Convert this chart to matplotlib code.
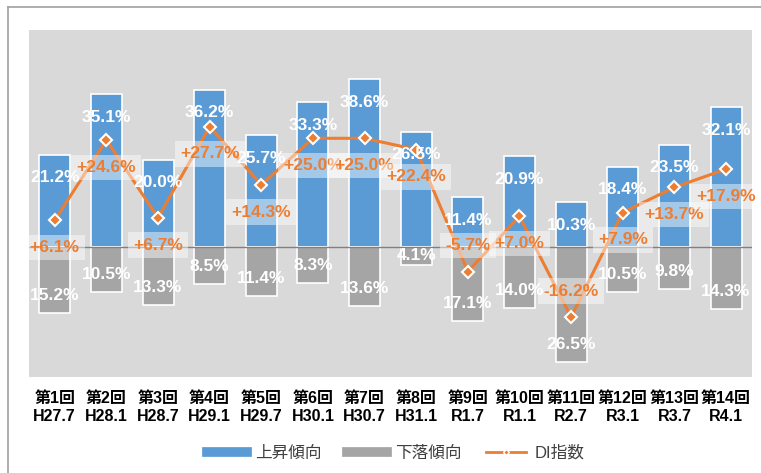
import matplotlib.pyplot as plt
from matplotlib.lines import Line2D
import numpy as np

plt.rcParams['font.family'] = ['Liberation Sans', 'Noto Sans CJK JP', 'DejaVu Sans']

# data
rounds = ['第1回', '第2回', '第3回', '第4回', '第5回', '第6回', '第7回',
          '第8回', '第9回', '第10回', '第11回', '第12回', '第13回', '第14回']
periods = ['H27.7', 'H28.1', 'H28.7', 'H29.1', 'H29.7', 'H30.1', 'H30.7',
           'H31.1', 'R1.7', 'R1.1', 'R2.7', 'R3.1', 'R3.7', 'R4.1']
up = [21.2, 35.1, 20.0, 36.2, 25.7, 33.3, 38.6, 26.5, 11.4, 20.9, 10.3, 18.4, 23.5, 32.1]
down = [15.2, 10.5, 13.3, 8.5, 11.4, 8.3, 13.6, 4.1, 17.1, 14.0, 26.5, 10.5, 9.8, 14.3]
di = [6.1, 24.6, 6.7, 27.7, 14.3, 25.0, 25.0, 22.4, -5.7, 7.0, -16.2, 7.9, 13.7, 17.9]

blue = '#5B9BD5'
gray = '#A5A5A5'
orange = '#ED7D31'

fig = plt.figure(figsize=(7.61, 4.73), dpi=100)
ax = fig.add_axes([0.038, 0.203, 0.950, 0.734])
ax.set_facecolor('#D9D9D9')

x = np.arange(len(rounds))
neg = [-d for d in down]
ax.bar(x, up, width=0.6, color=blue, edgecolor='white', linewidth=1.2, zorder=2)
ax.bar(x, neg, width=0.6, color=gray, edgecolor='white', linewidth=1.2, zorder=2)
ax.axhline(0, color='#808080', linewidth=1, zorder=3)

ax.plot(x, di, color=orange, linewidth=2.2, marker='D', markersize=6,
        markerfacecolor=orange, markeredgecolor='white', markeredgewidth=1.5, zorder=4)

# value labels
for i in range(len(x)):
    ax.text(x[i], up[i] - 5.3, f'{up[i]:.1f}%', ha='center', va='center',
            color='white', fontsize=12.5, fontweight='bold', zorder=5)
    yd = neg[i] + 4.0 if down[i] > 6 else neg[i] / 2
    ax.text(x[i], yd, f'{down[i]:.1f}%', ha='center', va='center',
            color='white', fontsize=12.5, fontweight='bold', zorder=5)
    ydi = di[i] - 6.3 if di[i] >= 0 else di[i] + 6.0
    ax.text(x[i], ydi, f'{di[i]:+.1f}%', ha='center', va='center',
            color=orange, fontsize=12.5, fontweight='bold', zorder=6,
            bbox=dict(boxstyle='square,pad=0.3', facecolor='white',
                      edgecolor='none', alpha=0.45))

ax.set_xlim(-0.5, len(x) - 0.5)
ax.set_ylim(-30, 50)
ax.set_yticks([])
ax.set_xticks(x)
ax.set_xticklabels([f'{r}\n{p}' for r, p in zip(rounds, periods)],
                   fontsize=11.5, fontweight='bold', linespacing=1.25)
ax.tick_params(axis='x', length=0, pad=10)
for s in ax.spines.values():
    s.set_visible(False)

handles = [
    Line2D([], [], color=blue, linewidth=7),
    Line2D([], [], color=gray, linewidth=7),
    Line2D([], [], color=orange, linewidth=2, marker='D', markersize=3,
           markerfacecolor=orange, markeredgecolor='white'),
]
fig.legend(handles, ['上昇傾向', '下落傾向', 'DI指数'], loc='center',
           bbox_to_anchor=(0.52, 0.042), ncol=3, frameon=False,
           fontsize=12, handlelength=2.4, handletextpad=0.5,
           columnspacing=1.5, labelcolor='#404040')

# chart frame edges
fig.add_artist(Line2D([0.011, 0.011], [0, 0.985], color='#A0A0A0', linewidth=1.2,
                      transform=fig.transFigure))
fig.add_artist(Line2D([0.011, 1.0], [0.985, 0.985], color='#A0A0A0', linewidth=1.2,
                      transform=fig.transFigure))

fig.savefig('out.png', dpi=100)
